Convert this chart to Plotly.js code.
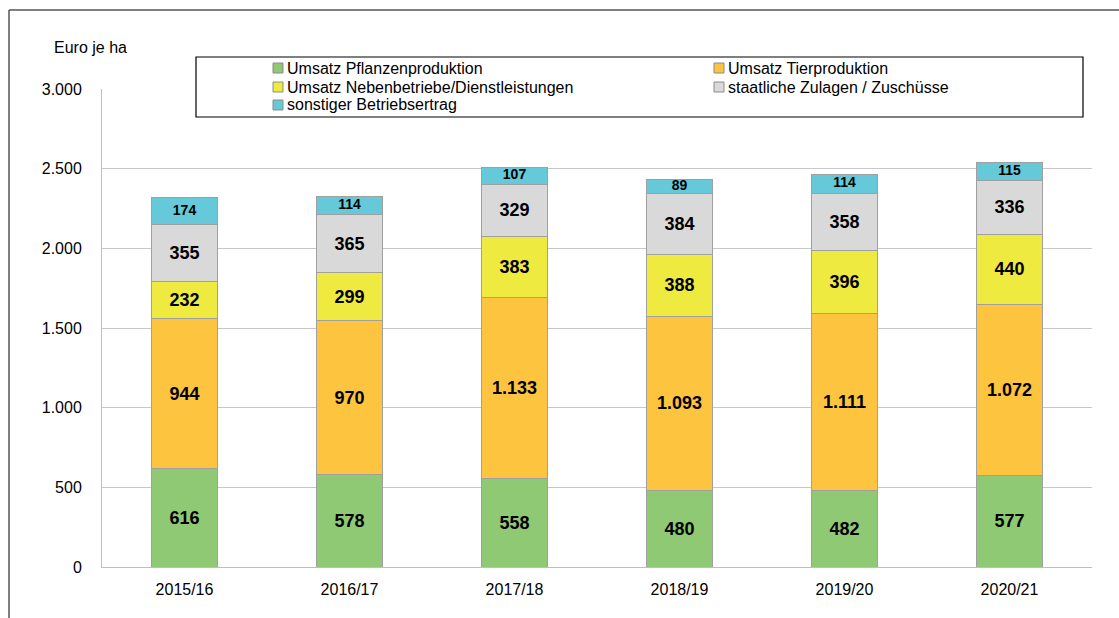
<!DOCTYPE html>
<html>
<head>
<meta charset="utf-8">
<script src="https://cdn.plot.ly/plotly-3.0.1.min.js"></script>
<style>
html,body{margin:0;padding:0;background:#fff;}
#chart{width:1119px;height:618px;}
</style>
</head>
<body>
<div id="chart"></div>
<script>
// ---- data ----
const years = ['2015/16','2016/17','2017/18','2018/19','2019/20','2020/21'];
const pflanzen = [616, 578, 558, 480, 482, 577];
const tier = [944, 970, 1133, 1093, 1111, 1072];
const neben = [232, 299, 383, 388, 396, 440];
const zulagen = [355, 365, 329, 384, 358, 336];
const sonstiger = [174, 114, 107, 89, 114, 115];
const seriesNames = ['Umsatz Pflanzenproduktion','Umsatz Tierproduktion','Umsatz Nebenbetriebe/Dienstleistungen','staatliche Zulagen / Zuschüsse','sonstiger Betriebsertrag'];
const seriesColors = ['#8fc973','#fcc43f','#efea3f','#d9d9d9','#66c9d9'];
const yTicks = [0, 500, 1000, 1500, 2000, 2500, 3000];

const FONT = '"Liberation Sans", Arial, sans-serif';
const allSeries = [pflanzen, tier, neben, zulagen, sonstiger];

// pixel helpers for placing the legend box (plot area: x 102..1092, y 89..567)
const PL = 102, PW = 990, PB = 567, PH = 478;
const px = v => (v - PL) / PW;
const py = v => (PB - v) / PH;

const traces = allSeries.map((vals, i) => ({
  type: 'bar',
  name: seriesNames[i],
  x: years,
  y: vals,
  marker: {color: seriesColors[i], line: {color: '#a0a0a0', width: 1}},
  texttemplate: i === 4 ? '' : '%{y:,.0f}',
  textposition: i === 4 ? 'none' : 'inside',
  insidetextanchor: 'middle',
  textangle: 0,
  textfont: {family: FONT, size: 18, color: '#000', weight: 'bold'},
  showlegend: false,
  hoverinfo: 'x+y+name'
}));

// labels of the small top segment, placed at the segment centre (derived from the data)
const topMid = years.map((_, j) => pflanzen[j] + tier[j] + neben[j] + zulagen[j] + sonstiger[j] / 2);
traces.push({
  type: 'scatter', mode: 'text', x: years, y: topMid,
  text: sonstiger.map(v => String(v)),
  textposition: 'middle center',
  textfont: {family: FONT, size: 14, color: '#000', weight: 'bold'},
  showlegend: false, hoverinfo: 'skip'
});

// legend drawn as swatches + text, two columns, row-major order
const legCols = [273, 714];
const legRows = [68, 87, 105];
const legendShapes = [];
const legendAnn = [];
seriesNames.forEach((name, i) => {
  const cx = legCols[i % 2];
  const cy = legRows[Math.floor(i / 2)];
  legendShapes.push({type: 'rect', xref: 'paper', yref: 'paper',
    x0: px(cx), x1: px(cx + 10), y0: py(cy + 5), y1: py(cy - 5),
    line: {color: '#8c8c8c', width: 1}, fillcolor: seriesColors[i]});
  legendAnn.push({text: name, xref: 'paper', yref: 'paper',
    x: px(cx + 12), xanchor: 'left', y: py(cy), yanchor: 'middle',
    showarrow: false, font: {family: FONT, size: 16, color: '#000'}});
});

const layout = {
  width: 1119, height: 618,
  margin: {l: 102, r: 27, t: 89, b: 51},
  paper_bgcolor: '#fff', plot_bgcolor: '#fff',
  separators: ',.',
  barmode: 'stack',
  bargap: 0.6,
  font: {family: FONT, size: 16, color: '#000'},
  showlegend: false,
  xaxis: {
    type: 'category',
    showgrid: false,
    showline: true, linecolor: '#bfbfbf', linewidth: 1,
    ticks: '', tickfont: {family: FONT, size: 16, color: '#000'},
    ticklabelstandoff: 8
  },
  yaxis: {
    range: [0, 3000],
    tickvals: yTicks,
    tickformat: ',.0f',
    showgrid: true, gridcolor: '#c8c8c8', gridwidth: 1,
    zeroline: false,
    showline: true, linecolor: '#bfbfbf', linewidth: 1,
    ticks: '', tickfont: {family: FONT, size: 16, color: '#000'},
    ticklabelstandoff: 16
  },
  annotations: [{
    text: 'Euro je ha', xref: 'paper', yref: 'paper',
    x: px(52), xanchor: 'left',
    y: py(47), yanchor: 'middle',
    showarrow: false, font: {family: FONT, size: 16, color: '#000'}
  }].concat(legendAnn),
  shapes: [
    // legend box
    {type: 'rect', xref: 'paper', yref: 'paper',
     x0: px(196), x1: px(1083), y0: py(117), y1: py(57),
     line: {color: '#000', width: 1.2}, fillcolor: '#fff', layer: 'above'},
    // outer frame (left and top edges)
    {type: 'line', xref: 'paper', yref: 'paper',
     x0: px(9), x1: px(9), y0: py(10), y1: py(630),
     line: {color: '#555', width: 1.5}},
    {type: 'line', xref: 'paper', yref: 'paper',
     x0: px(9), x1: px(1130), y0: py(10), y1: py(10),
     line: {color: '#555', width: 1.5}}
  ].concat(legendShapes)
};

Plotly.newPlot('chart', traces, layout, {displayModeBar: false, staticPlot: true});
</script>
</body>
</html>
